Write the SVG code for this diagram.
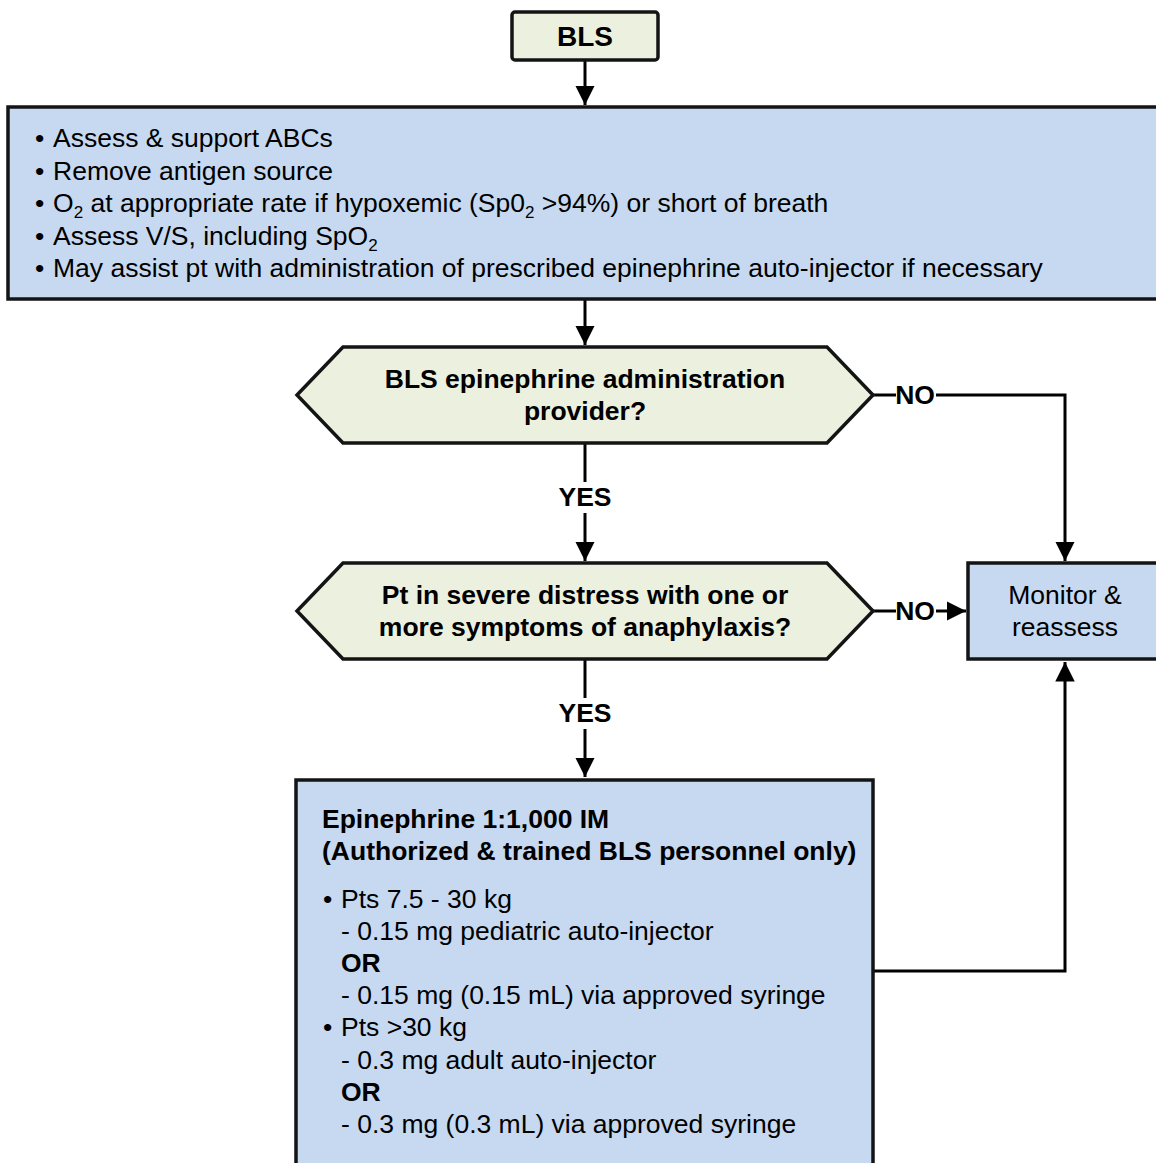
<svg xmlns="http://www.w3.org/2000/svg" width="1156" height="1163" viewBox="0 0 1156 1163">
<style>
.box{stroke:#141414;stroke-width:3.5;}
.blue{fill:#C6D9F1;}
.green{fill:#EBF1DE;}
.t{font-family:"Liberation Sans",Arial,sans-serif;font-size:26.5px;fill:#000;}
.b{font-weight:bold;}
.c{text-anchor:middle;}
.ln{stroke:#000;stroke-width:3;fill:none;}
</style>
<defs>
<marker id="ah" viewBox="0 0 10 10" refX="10" refY="5" markerWidth="6.5" markerHeight="6.5" markerUnits="strokeWidth" orient="auto">
<path d="M0,0 L10,5 L0,10 z" fill="#000"/>
</marker>
</defs>
<g id="connectors">
<line class="ln" x1="585" y1="61" x2="585" y2="105" marker-end="url(#ah)"/>
<line class="ln" x1="585" y1="299" x2="585" y2="345" marker-end="url(#ah)"/>
<line class="ln" x1="873" y1="395" x2="896" y2="395"/>
<polyline class="ln" points="936,395 1065,395 1065,561" marker-end="url(#ah)"/>
<text class="t b c" x="915" y="404">NO</text>
<line class="ln" x1="585" y1="443" x2="585" y2="482"/>
<text class="t b c" x="585" y="506">YES</text>
<line class="ln" x1="585" y1="513" x2="585" y2="561" marker-end="url(#ah)"/>
<line class="ln" x1="873" y1="611" x2="896" y2="611"/>
<line class="ln" x1="936" y1="611" x2="966" y2="611" marker-end="url(#ah)"/>
<text class="t b c" x="915" y="620">NO</text>
<line class="ln" x1="585" y1="659" x2="585" y2="698"/>
<text class="t b c" x="585" y="722">YES</text>
<line class="ln" x1="585" y1="729" x2="585" y2="777" marker-end="url(#ah)"/>
<polyline class="ln" points="873,971 1065,971 1065,662" marker-end="url(#ah)"/>
</g>
<g id="bls">
<rect class="box green" x="512" y="12" width="146" height="48" rx="3" stroke-width="4"/>
<text class="t b c" x="585" y="46" style="font-size:28px">BLS</text>
</g>
<g id="assess">
<rect class="box blue" x="8" y="107" width="1160" height="192"/>
<text class="t" x="35" y="147">•<tspan x="53">Assess &amp; support ABCs</tspan></text>
<text class="t" x="35" y="180">•<tspan x="53">Remove antigen source</tspan></text>
<text class="t" x="35" y="212">•<tspan x="53">O</tspan><tspan font-size="17" dy="6">2</tspan><tspan dy="-6"> at appropriate rate if hypoxemic (Sp0</tspan><tspan font-size="17" dy="6">2</tspan><tspan dy="-6"> &gt;94%) or short of breath</tspan></text>
<text class="t" x="35" y="245">•<tspan x="53">Assess V/S, including SpO</tspan><tspan font-size="17" dy="6">2</tspan></text>
<text class="t" x="35" y="277">•<tspan x="53">May assist pt with administration of prescribed epinephrine auto-injector if necessary</tspan></text>
</g>
<g id="decision1">
<polygon class="box green" points="297,395 343,347 827,347 873,395 827,443 343,443"/>
<text class="t b c" x="585" y="388">BLS epinephrine administration</text>
<text class="t b c" x="585" y="420">provider?</text>
</g>
<g id="decision2">
<polygon class="box green" points="297,611 343,563 827,563 873,611 827,659 343,659"/>
<text class="t b c" x="585" y="604">Pt in severe distress with one or</text>
<text class="t b c" x="585" y="636">more symptoms of anaphylaxis?</text>
</g>
<g id="monitor">
<rect class="box blue" x="968" y="563" width="200" height="96"/>
<text class="t c" x="1065" y="604">Monitor &amp;</text>
<text class="t c" x="1065" y="636">reassess</text>
</g>
<g id="epinephrine">
<rect class="box blue" x="296" y="780" width="577" height="400"/>
<text class="t b" x="322" y="828">Epinephrine 1:1,000 IM</text>
<text class="t b" x="322" y="860">(Authorized &amp; trained BLS personnel only)</text>
<text class="t" x="323" y="908">•<tspan x="341">Pts 7.5 - 30 kg</tspan></text>
<text class="t" x="341" y="940">- 0.15 mg pediatric auto-injector</text>
<text class="t b" x="341" y="972">OR</text>
<text class="t" x="341" y="1004">- 0.15 mg (0.15 mL) via approved syringe</text>
<text class="t" x="323" y="1036">•<tspan x="341">Pts &gt;30 kg</tspan></text>
<text class="t" x="341" y="1069">- 0.3 mg adult auto-injector</text>
<text class="t b" x="341" y="1101">OR</text>
<text class="t" x="341" y="1133">- 0.3 mg (0.3 mL) via approved syringe</text>
</g>
</svg>
